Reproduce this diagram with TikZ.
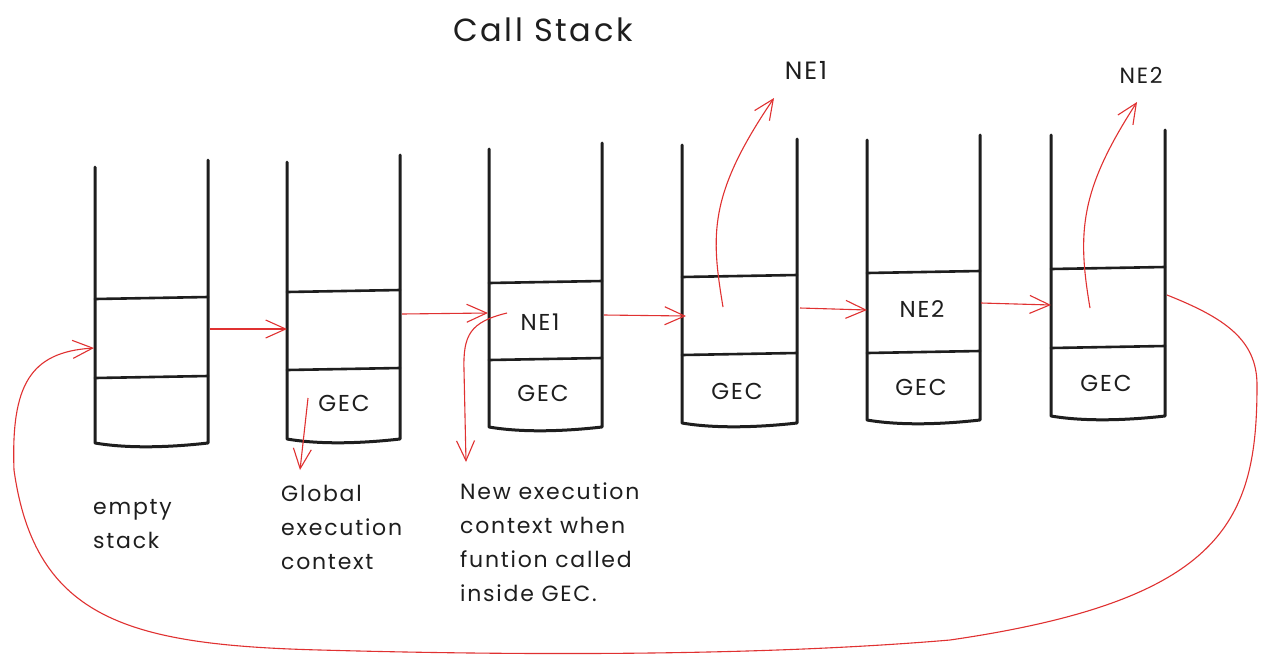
\documentclass[tikz,border=0pt]{standalone}
\usepackage{fontspec}
\setmainfont{Poppins}[LetterSpace=8]
\usetikzlibrary{arrows.meta}
\definecolor{ink}{HTML}{1E1E1E}
\definecolor{excred}{HTML}{E03131}
\begin{document}
\begin{tikzpicture}[x=1pt,y=-1pt,
  wall/.style={draw=ink, line width=3pt, line cap=round, line join=round},
  shelf/.style={draw=ink, line width=2.6pt, line cap=round},
  flow/.style={draw=excred, line width=1.1pt, -{Straight Barb[length=20pt,width=18pt,line width=1.1pt]}},
  lbl/.style={font=\fontsize{22}{34}\selectfont, text=ink, inner sep=0pt},
  cell/.style={font=\fontsize{23}{28}\selectfont, text=ink, inner sep=0pt},
]
\useasboundingbox (0,0) rectangle (1268,662);
\fill[white] (0,0) rectangle (1268,662);

% stacks: n / left / right / top-left / top-right / divider1 / divider2 / bottom
\foreach \n/\L/\R/\tl/\tr/\da/\db/\b in {
  1/95/208/167/160/299/377/445,
  2/287/400/162/155/292/369/441,
  3/489/602/149/143/283/359/429,
  4/682/797/145/139/277/354/425,
  5/867/980/140/135/273/352/422,
  6/1051/1165/135/130/269/347/418}{
  \draw[wall] (\L,\tl) -- (\L,\b-2) .. controls (\L+35,\b+4) and (\R-35,\b+2) .. (\R,\b-2) -- (\R,\tr);
  \draw[shelf] (\L,\da) -- (\R,\da-2);
  \draw[shelf] (\L,\db+1) -- (\R,\db-1);
}

% title
\node[font=\fontsize{32}{36}\selectfont, text=ink, inner sep=0pt] (title) at (543,30) {Call Stack};

% cell labels
\node[cell] (gec2) at (344,403) {GEC};
\node[cell] (ne1c) at (540,322) {NE1};
\node[cell] (gec3) at (543,393) {GEC};
\node[cell] (gec4) at (737,391) {GEC};
\node[cell] (ne2c) at (922,309) {NE2};
\node[cell] (gec5) at (921,387) {GEC};
\node[cell] (gec6) at (1106,383) {GEC};

% top labels
\node[font=\fontsize{25}{30}\selectfont, text=ink, inner sep=0pt] (ne1top) at (806,70) {NE1};
\node[font=\fontsize{22}{28}\selectfont, text=ink, inner sep=0pt] (ne2top) at (1141,75) {NE2};

% bottom labels
\node[lbl, anchor=west, align=left] (empty) at (93,524) {empty\\stack};
\node[lbl, anchor=west, align=left] (global) at (281,527) {Global\\execution\\context};
\node[lbl, anchor=west, align=left] (newec) at (460,542) {New execution\\context when\\funtion called\\inside GEC.};

% connector end points
\coordinate (s1in) at (94,348);
\coordinate (s1out) at (210,329);
\coordinate (s2in) at (287,329);
\coordinate (s2out) at (402,314);
\coordinate (s3in) at (488,313);
\coordinate (s3out) at (604,315);
\coordinate (s4in) at (686,316);
\coordinate (s4out) at (800,308);
\coordinate (s5in) at (867,310);
\coordinate (s5out) at (981,303);
\coordinate (s6in) at (1051,305);
\coordinate (s6out) at (1167,295);
\coordinate (up4s) at (723,307);
\coordinate (up4e) at (774,98);
\coordinate (up6s) at (1090,308);
\coordinate (up6e) at (1137,102);
\coordinate (dn2s) at (308,398);
\coordinate (dn2e) at (300,470);
\coordinate (dn3s) at (507,313);
\coordinate (dn3e) at (466,462);

% horizontal arrows
\draw[flow] (s1out) -- (s2in);
\draw[flow] (s2out) -- (s3in);
\draw[flow] (s3out) -- (s4in);
\draw[flow] (s4out) -- (s5in);
\draw[flow] (s5out) -- (s6in);

% upward arrows
\draw[flow] (up4s) .. controls (711,235) and (708,195) .. (up4e);
\draw[flow] (up6s) .. controls (1077,232) and (1080,190) .. (up6e);

% downward arrows
\draw[flow] (dn2s) -- (dn2e);
\draw[flow] (dn3s) .. controls (470,322) and (463,335) .. (464,370) -- (dn3e);

% loop back
\draw[flow] (s6out) .. controls (1225,318) and (1257,340) .. (1257,385)
  .. controls (1257,520) and (1225,600) .. (950,640)
  .. controls (750,657) and (500,655) .. (320,650)
  .. controls (130,645) and (35,620) .. (14,470)
  .. controls (11,385) and (30,352) .. (s1in);
\end{tikzpicture}
\end{document}
